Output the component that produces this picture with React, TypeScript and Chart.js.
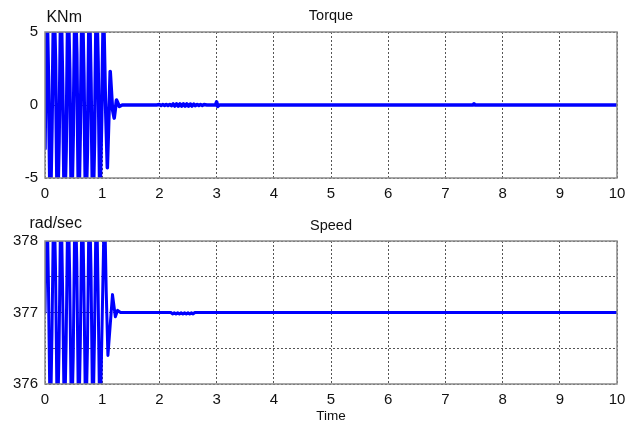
import React, { useEffect, useRef } from "react";
import { Chart, registerables } from "chart.js";

Chart.register(...registerables);

// ---- Data ----
const xTicks = [0, 1, 2, 3, 4, 5, 6, 7, 8, 9, 10];

const torqueTime = [
  0, 0.03, 0.06, 0.092, 0.122, 0.154, 0.184, 0.216, 0.246, 0.278, 0.308, 0.34, 0.37,
  0.402, 0.432, 0.464, 0.494, 0.526, 0.556, 0.588, 0.618, 0.65, 0.68, 0.712, 0.742,
  0.774, 0.804, 0.836, 0.866, 0.898, 0.928, 0.96, 0.99, 1.022, 1.055, 1.09, 1.14,
  1.18, 1.21, 1.25, 1.3, 1.35, 1.95, 2.0, 2.03, 2.06, 2.09, 2.12, 2.15, 2.18, 2.21,
  2.24, 2.27, 2.3, 2.33, 2.36, 2.39, 2.42, 2.45, 2.48, 2.51, 2.54, 2.57, 2.6, 2.63,
  2.66, 2.69, 2.72, 2.75, 2.78, 2.83, 2.98, 3.0, 3.02, 3.05, 7.48, 7.5, 7.52, 10,
];
const torqueValues = [
  -3, 8, 2, -8, -1.5, 8, 3, -8, -2.5, 8, 1.5, -8, -3,
  8, 2.5, -8, -2, 8, 3.5, -8, -1.5, 8, 2, -8, -3,
  8, 1.5, -8, -2.5, 8, 3, -7, -1, 7, 0.5, -4.3, 2.3,
  -0.3, -0.9, 0.35, -0.1, 0, 0, 0.03, -0.03, 0.03, -0.03, 0.04, -0.04, 0.04, -0.05,
  0.07, -0.07, 0.08, -0.08, 0.08, -0.08, 0.08, -0.08, 0.08, -0.08, 0.07, -0.07, 0.06, -0.05,
  0.04, -0.04, 0.03, -0.03, 0.03, 0, 0, 0.22, -0.1, 0, 0, 0.08, 0, 0,
];

const speedTime = [
  0, 0.03, 0.06, 0.092, 0.122, 0.154, 0.184, 0.216, 0.246, 0.278, 0.308, 0.34, 0.37,
  0.402, 0.432, 0.464, 0.494, 0.526, 0.556, 0.588, 0.618, 0.65, 0.68, 0.712, 0.742,
  0.774, 0.804, 0.836, 0.866, 0.898, 0.928, 0.96, 0.99, 1.04, 1.07, 1.1, 1.18, 1.23,
  1.27, 1.32, 2.2, 2.23, 2.26, 2.29, 2.32, 2.35, 2.38, 2.41, 2.44, 2.47, 2.5, 2.53,
  2.56, 2.59, 2.62, 10,
];
const speedValues = [
  377, 378.8, 377.4, 375.3, 376.7, 378.8, 377.6, 375.3, 376.5, 378.8, 377.3, 375.3, 376.6,
  378.8, 377.5, 375.3, 376.4, 378.8, 377.7, 375.3, 376.6, 378.8, 377.4, 375.3, 376.5,
  378.8, 377.6, 375.3, 376.7, 378.8, 377.3, 375.3, 376.5, 378.6, 377.3, 376.4, 377.25, 376.94,
  377.03, 377, 377, 376.98, 376.995, 376.98, 376.995, 376.98, 376.995, 376.98, 376.995, 376.98, 376.995, 376.98,
  376.995, 376.98, 377, 377,
];

const FONT = "Arial, 'Liberation Sans', sans-serif";

function framePlugin(title: string, unit: string, titleDy: number, unitDy: number) {
  return {
    id: "frameAndTitles",
    afterDraw(chart: any) {
      const { ctx, chartArea } = chart;
      const { left, right, top, bottom } = chartArea;
      ctx.save();
      ctx.strokeStyle = "#8a8a8a";
      ctx.lineWidth = 1.5;
      ctx.strokeRect(left, top, right - left, bottom - top);
      ctx.fillStyle = "#111";
      ctx.textBaseline = "alphabetic";
      ctx.font = `14.5px ${FONT}`;
      ctx.textAlign = "center";
      ctx.fillText(title, (left + right) / 2, top - titleDy);
      ctx.font = `16px ${FONT}`;
      ctx.textAlign = "right";
      ctx.fillText(unit, left + 37, top - unitDy);
      ctx.restore();
    },
  };
}

function makeConfig(
  times: number[],
  values: number[],
  yMin: number,
  yMax: number,
  yStep: number,
  padTop: number,
  xHeight: number,
  showTime: boolean,
  title: string,
  unit: string,
  titleDy: number,
  unitDy: number,
  lineW: number
): any {
  const pts = times.map((t, i) => ({ x: t, y: values[i] }));
  return {
    type: "line",
    data: {
      datasets: [
        {
          data: pts,
          borderColor: "#0000ff",
          borderWidth: lineW,
          borderJoinStyle: "round",
          borderCapStyle: "round",
          pointRadius: 0,
          tension: 0,
          fill: false,
          clip: 0,
        },
      ],
    },
    options: {
      animation: false,
      responsive: false,
      maintainAspectRatio: false,
      layout: { padding: { top: padTop, right: 17, bottom: 0, left: 0 } },
      plugins: { legend: { display: false }, tooltip: { enabled: false }, title: { display: false } },
      scales: {
        x: {
          type: "linear",
          min: 0,
          max: 10,
          afterBuildTicks: (s: any) => {
            s.ticks = xTicks.map((v) => ({ value: v }));
          },
          afterFit: (s: any) => {
            s.height = xHeight;
          },
          grid: { color: "#555", lineWidth: 1, drawTicks: false },
          border: { display: false, dash: [2, 2] },
          ticks: { padding: 7, color: "#111", font: { family: FONT, size: 15 }, maxRotation: 0 },
          title: {
            display: showTime,
            text: "Time",
            color: "#111",
            font: { family: FONT, size: 13.5 },
            padding: { top: 0, bottom: 2 },
          },
        },
        y: {
          type: "linear",
          min: yMin,
          max: yMax,
          afterFit: (s: any) => {
            s.width = 45;
          },
          grid: { color: "#555", lineWidth: 1, drawTicks: false },
          border: { display: false, dash: [2, 2] },
          ticks: {
            stepSize: yStep,
            padding: 7,
            color: "#111",
            font: { family: FONT, size: 15 },
            callback: (v: number) => (Number.isInteger(v) ? String(v) : ""),
          },
        },
      },
    },
    plugins: [framePlugin(title, unit, titleDy, unitDy)],
  };
}

export default function App() {
  const topRef = useRef<HTMLCanvasElement | null>(null);
  const botRef = useRef<HTMLCanvasElement | null>(null);

  useEffect(() => {
    const c1 = new Chart(
      topRef.current as HTMLCanvasElement,
      makeConfig(torqueTime, torqueValues, -5, 5, 5, 32, 35, false, "Torque", "KNm", 12.5, 10, 3.5)
    );
    const c2 = new Chart(
      botRef.current as HTMLCanvasElement,
      makeConfig(speedTime, speedValues, 376, 378, 0.5, 28, 42, true, "Speed", "rad/sec", 11, 12.7, 3)
    );
    return () => {
      c1.destroy();
      c2.destroy();
    };
  }, []);

  return (
    <div style={{ position: "absolute", left: 0, top: 0, width: 634, height: 426, background: "#fff" }}>
      <canvas ref={topRef} width={634} height={213} style={{ position: "absolute", left: 0, top: 0, width: 634, height: 213 }} />
      <canvas ref={botRef} width={634} height={213} style={{ position: "absolute", left: 0, top: 213, width: 634, height: 213 }} />
    </div>
  );
}
